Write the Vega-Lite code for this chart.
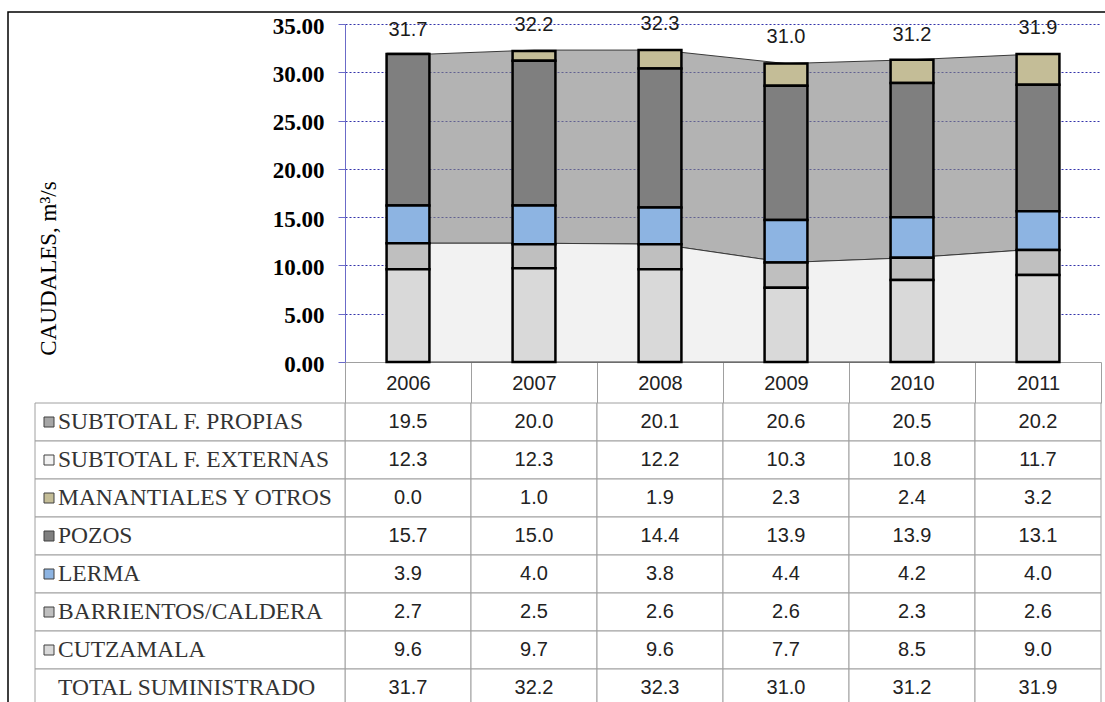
{
  "$schema": "https://vega.github.io/schema/vega-lite/v6.json",
  "autosize": {"type": "none"},
  "padding": {"left": 345, "top": 24, "right": 4, "bottom": 340},
  "width": 756,
  "height": 338,
  "background": "white",
  "config": {"view": {"stroke": null}, "font": "Liberation Sans"},
  "datasets": {
    "t": [
      {"row": "SUBTOTAL F. PROPIAS", "n": 1, "year": "2006", "value": 19.5},
      {"row": "SUBTOTAL F. PROPIAS", "n": 1, "year": "2007", "value": 20.0},
      {"row": "SUBTOTAL F. PROPIAS", "n": 1, "year": "2008", "value": 20.1},
      {"row": "SUBTOTAL F. PROPIAS", "n": 1, "year": "2009", "value": 20.6},
      {"row": "SUBTOTAL F. PROPIAS", "n": 1, "year": "2010", "value": 20.5},
      {"row": "SUBTOTAL F. PROPIAS", "n": 1, "year": "2011", "value": 20.2},
      {"row": "SUBTOTAL F. EXTERNAS", "n": 2, "year": "2006", "value": 12.3},
      {"row": "SUBTOTAL F. EXTERNAS", "n": 2, "year": "2007", "value": 12.3},
      {"row": "SUBTOTAL F. EXTERNAS", "n": 2, "year": "2008", "value": 12.2},
      {"row": "SUBTOTAL F. EXTERNAS", "n": 2, "year": "2009", "value": 10.3},
      {"row": "SUBTOTAL F. EXTERNAS", "n": 2, "year": "2010", "value": 10.8},
      {"row": "SUBTOTAL F. EXTERNAS", "n": 2, "year": "2011", "value": 11.7},
      {"row": "MANANTIALES Y OTROS", "n": 3, "year": "2006", "value": 0.0},
      {"row": "MANANTIALES Y OTROS", "n": 3, "year": "2007", "value": 1.0},
      {"row": "MANANTIALES Y OTROS", "n": 3, "year": "2008", "value": 1.9},
      {"row": "MANANTIALES Y OTROS", "n": 3, "year": "2009", "value": 2.3},
      {"row": "MANANTIALES Y OTROS", "n": 3, "year": "2010", "value": 2.4},
      {"row": "MANANTIALES Y OTROS", "n": 3, "year": "2011", "value": 3.2},
      {"row": "POZOS", "n": 4, "year": "2006", "value": 15.7},
      {"row": "POZOS", "n": 4, "year": "2007", "value": 15.0},
      {"row": "POZOS", "n": 4, "year": "2008", "value": 14.4},
      {"row": "POZOS", "n": 4, "year": "2009", "value": 13.9},
      {"row": "POZOS", "n": 4, "year": "2010", "value": 13.9},
      {"row": "POZOS", "n": 4, "year": "2011", "value": 13.1},
      {"row": "LERMA", "n": 5, "year": "2006", "value": 3.9},
      {"row": "LERMA", "n": 5, "year": "2007", "value": 4.0},
      {"row": "LERMA", "n": 5, "year": "2008", "value": 3.8},
      {"row": "LERMA", "n": 5, "year": "2009", "value": 4.4},
      {"row": "LERMA", "n": 5, "year": "2010", "value": 4.2},
      {"row": "LERMA", "n": 5, "year": "2011", "value": 4.0},
      {"row": "BARRIENTOS/CALDERA", "n": 6, "year": "2006", "value": 2.7},
      {"row": "BARRIENTOS/CALDERA", "n": 6, "year": "2007", "value": 2.5},
      {"row": "BARRIENTOS/CALDERA", "n": 6, "year": "2008", "value": 2.6},
      {"row": "BARRIENTOS/CALDERA", "n": 6, "year": "2009", "value": 2.6},
      {"row": "BARRIENTOS/CALDERA", "n": 6, "year": "2010", "value": 2.3},
      {"row": "BARRIENTOS/CALDERA", "n": 6, "year": "2011", "value": 2.6},
      {"row": "CUTZAMALA", "n": 7, "year": "2006", "value": 9.6},
      {"row": "CUTZAMALA", "n": 7, "year": "2007", "value": 9.7},
      {"row": "CUTZAMALA", "n": 7, "year": "2008", "value": 9.6},
      {"row": "CUTZAMALA", "n": 7, "year": "2009", "value": 7.7},
      {"row": "CUTZAMALA", "n": 7, "year": "2010", "value": 8.5},
      {"row": "CUTZAMALA", "n": 7, "year": "2011", "value": 9.0},
      {"row": "TOTAL SUMINISTRADO", "n": 8, "year": "2006", "value": 31.7},
      {"row": "TOTAL SUMINISTRADO", "n": 8, "year": "2007", "value": 32.2},
      {"row": "TOTAL SUMINISTRADO", "n": 8, "year": "2008", "value": 32.3},
      {"row": "TOTAL SUMINISTRADO", "n": 8, "year": "2009", "value": 31.0},
      {"row": "TOTAL SUMINISTRADO", "n": 8, "year": "2010", "value": 31.2},
      {"row": "TOTAL SUMINISTRADO", "n": 8, "year": "2011", "value": 31.9}
    ]
  },
  "data": {"name": "t"},
  "resolve": {"scale": {"x": "independent", "y": "independent", "color": "independent"}},
  "layer": [
    {
      "data": {"values": [{}]},
      "mark": {"type": "rect", "fill": "transparent", "stroke": "black", "strokeWidth": 1.5},
      "encoding": {
        "x": {"datum": 0, "type": "quantitative", "scale": {"domain": [0, 1], "range": [-337, 780]}, "axis": null},
        "x2": {"datum": 1},
        "y": {"datum": 0, "type": "quantitative", "scale": {"domain": [0, 1], "range": [-12, 700]}, "axis": null},
        "y2": {"datum": 1}
      }
    },
    {
      "layer": [
        {
          "transform": [{"filter": {"field": "row", "oneOf": ["SUBTOTAL F. PROPIAS", "SUBTOTAL F. EXTERNAS"]}}],
          "mark": {"type": "area", "stroke": "#3a3a3a", "strokeWidth": 1, "interpolate": "linear"},
          "encoding": {
            "x": {
              "field": "year", "type": "nominal",
              "scale": {"paddingInner": 0, "paddingOuter": 0},
              "axis": {
                "title": null, "labelAngle": 0, "labelFont": "Liberation Sans", "labelFontSize": 20,
                "labelColor": "#222", "tickBand": "extent", "tickSize": 41, "tickColor": "#a0a0a0",
                "domainColor": "#a0a0a0", "labelPadding": -20, "labelBaseline": "middle", "grid": false
              }
            },
            "y": {
              "field": "value", "type": "quantitative", "stack": "zero",
              "scale": {"domain": [0, 35], "nice": false},
              "axis": {
                "values": [0, 5, 10, 15, 20, 25, 30, 35], "format": ".2f",
                "labelFont": "Liberation Serif", "labelFontSize": 23, "labelFontWeight": "bold",
                "labelColor": "#000", "labelPadding": 14, "labelOffset": 2,
                "tickSize": 7, "tickColor": "#6b6bc8", "domainColor": "#6b6bc8",
                "grid": true, "gridColor": "#3333aa", "gridDash": [2, 2],
                "gridOpacity": {"condition": {"test": "datum.value === 0", "value": 0}, "value": 1},
                "title": "CAUDALES, m³/s", "titleFont": "Liberation Serif", "titleFontSize": 23,
                "titleFontWeight": "normal", "titleColor": "#000", "titleX": -297, "titleY": 244,
                "titleBaseline": "middle", "titleAlign": "center", "titleAngle": -90
              }
            },
            "color": {
              "field": "row", "type": "nominal", "legend": null,
              "scale": {
                "domain": ["SUBTOTAL F. PROPIAS", "SUBTOTAL F. EXTERNAS", "MANANTIALES Y OTROS", "POZOS", "LERMA", "BARRIENTOS/CALDERA", "CUTZAMALA"],
                "range": ["#808080", "#f2f2f2", "#c4bd97", "#7f7f7f", "#8db4e2", "#bfbfbf", "#d9d9d9"]
              }
            },
            "fillOpacity": {"condition": {"test": "datum.n === 1", "value": 0.6}, "value": 1},
            "order": {"field": "n", "sort": "descending"}
          }
        },
        {
          "transform": [{"filter": "datum.n >= 3 && datum.n <= 7"}],
          "mark": {"type": "bar", "width": {"band": 0.34}, "stroke": "black", "strokeWidth": 2.5},
          "encoding": {
            "x": {"field": "year", "type": "nominal", "title": null},
            "y": {"field": "value", "type": "quantitative", "stack": "zero", "title": "CAUDALES, m³/s"},
            "color": {
              "field": "row", "type": "nominal", "legend": null,
              "scale": {
                "domain": ["SUBTOTAL F. PROPIAS", "SUBTOTAL F. EXTERNAS", "MANANTIALES Y OTROS", "POZOS", "LERMA", "BARRIENTOS/CALDERA", "CUTZAMALA"],
                "range": ["#808080", "#f2f2f2", "#c4bd97", "#7f7f7f", "#8db4e2", "#bfbfbf", "#d9d9d9"]
              }
            },
            "order": {"field": "n", "sort": "descending"}
          }
        },
        {
          "transform": [{"filter": "datum.n === 8"}],
          "mark": {"type": "text", "dy": -26, "baseline": "middle", "font": "Liberation Sans", "fontSize": 20, "color": "#1a1a1a"},
          "encoding": {
            "x": {"field": "year", "type": "nominal", "title": null},
            "y": {"field": "value", "type": "quantitative", "title": "CAUDALES, m³/s"},
            "text": {"field": "value", "type": "quantitative", "format": ".1f"}
          }
        }
      ]
    },
    {
      "layer": [
        {
          "mark": {"type": "rect", "fill": "white", "stroke": "#a0a0a0", "strokeWidth": 1},
          "encoding": {
            "x": {"field": "year", "type": "nominal", "scale": {"paddingInner": 0, "paddingOuter": 0}, "axis": null},
            "y": {
              "field": "row", "type": "nominal", "axis": null,
              "scale": {
                "domain": ["SUBTOTAL F. PROPIAS", "SUBTOTAL F. EXTERNAS", "MANANTIALES Y OTROS", "POZOS", "LERMA", "BARRIENTOS/CALDERA", "CUTZAMALA", "TOTAL SUMINISTRADO"],
                "range": [379, 683], "paddingInner": 0, "paddingOuter": 0
              }
            }
          }
        },
        {
          "mark": {"type": "text", "baseline": "middle", "font": "Liberation Sans", "fontSize": 20, "color": "#222"},
          "encoding": {
            "x": {"field": "year", "type": "nominal", "axis": null},
            "y": {"field": "row", "type": "nominal", "axis": null},
            "text": {"field": "value", "type": "quantitative", "format": ".1f"}
          }
        }
      ]
    },
    {
      "transform": [{"filter": "datum.year === '2006'"}],
      "layer": [
        {
          "mark": {"type": "rect", "fill": "white", "stroke": "#a0a0a0", "strokeWidth": 1},
          "encoding": {
            "x": {"datum": 0, "type": "quantitative", "scale": {"domain": [0, 1], "range": [-310, 0]}, "axis": null},
            "x2": {"datum": 1},
            "y": {
              "field": "row", "type": "nominal", "axis": null,
              "scale": {
                "domain": ["SUBTOTAL F. PROPIAS", "SUBTOTAL F. EXTERNAS", "MANANTIALES Y OTROS", "POZOS", "LERMA", "BARRIENTOS/CALDERA", "CUTZAMALA", "TOTAL SUMINISTRADO"],
                "range": [379, 683], "paddingInner": 0, "paddingOuter": 0
              }
            }
          }
        },
        {
          "mark": {"type": "text", "align": "left", "baseline": "middle", "dx": 23, "font": "Liberation Serif", "fontSize": 23.5, "color": "#333"},
          "encoding": {
            "x": {"datum": 0, "type": "quantitative"},
            "y": {"field": "row", "type": "nominal"},
            "text": {"field": "row", "type": "nominal"}
          }
        },
        {
          "transform": [{"filter": "datum.n <= 7"}],
          "mark": {"type": "square", "size": 100, "filled": true, "opacity": 1, "stroke": "#404040", "strokeWidth": 1, "xOffset": 14},
          "encoding": {
            "x": {"datum": 0, "type": "quantitative"},
            "y": {"field": "row", "type": "nominal"},
            "color": {
              "field": "row", "type": "nominal", "legend": null,
              "scale": {
                "domain": ["SUBTOTAL F. PROPIAS", "SUBTOTAL F. EXTERNAS", "MANANTIALES Y OTROS", "POZOS", "LERMA", "BARRIENTOS/CALDERA", "CUTZAMALA"],
                "range": ["#a6a6a6", "#f2f2f2", "#c4bd97", "#7f7f7f", "#8db4e2", "#bfbfbf", "#d9d9d9"]
              }
            }
          }
        }
      ]
    }
  ]
}
